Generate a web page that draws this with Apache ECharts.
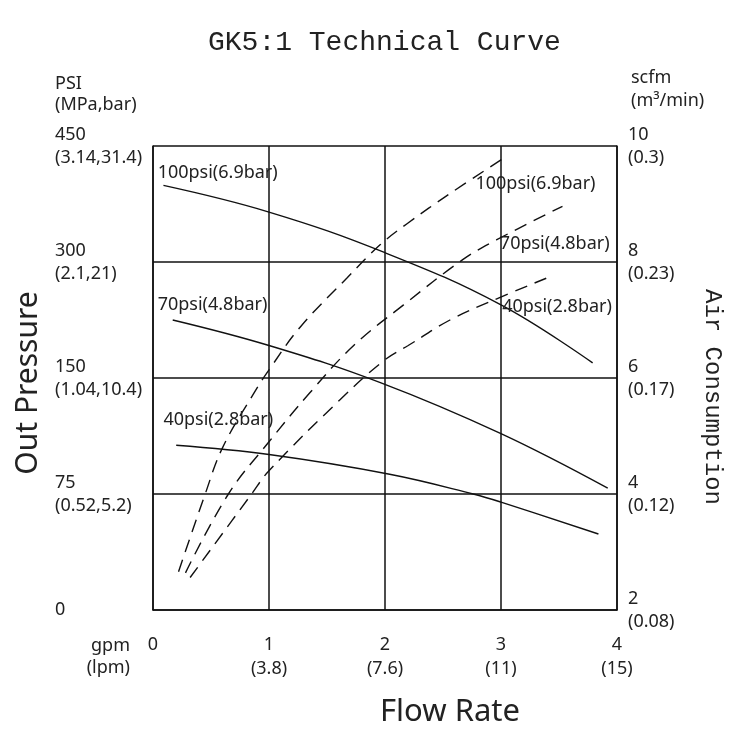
<!DOCTYPE html>
<html>
<head>
<meta charset="utf-8">
<script src="https://cdn.jsdelivr.net/npm/echarts@6/dist/echarts.min.js"></script>
<style>
	html, body { margin: 0; padding: 0; background: #fff; }
	#main { width: 750px; height: 750px; }
</style>
</head>
<body>
<div id="main"></div>
<script>
// flow rate ticks (gpm / lpm)
var flowLabels = ["0", "1\n(3.8)", "2\n(7.6)", "3\n(11)", "4\n(15)"];
// out pressure ticks, one per grid row (PSI / MPa,bar)
var pressLabels = ["0", "75\n(0.52,5.2)", "150\n(1.04,10.4)", "300\n(2.1,21)", "450\n(3.14,31.4)"];
// air consumption ticks (scfm / m3/min)
var airLabels = { 2: "2\n(0.08)", 4: "4\n(0.12)", 6: "6\n(0.17)", 8: "8\n(0.23)", 10: "10\n(0.3)" };

// out pressure curves, [gpm, pressure row]
var press100 = [[0.09, 3.66], [1.0, 3.43], [2.0, 3.08], [3.0, 2.63], [3.79, 2.13]];
var press70 = [[0.17, 2.50], [1.0, 2.28], [1.96, 1.96], [3.0, 1.52], [3.92, 1.05]];
var press40 = [[0.2, 1.42], [1.0, 1.34], [2.04, 1.17], [2.76, 1.0], [3.0, 0.93], [3.84, 0.655]];

// air consumption curves, [gpm, scfm]
var air100 = [[0.22, 2.66], [0.45, 4.0], [0.6, 4.8], [0.87, 5.74], [1.0, 6.14], [1.27, 6.88], [1.67, 7.72], [1.96, 8.3], [2.19, 8.66], [2.56, 9.18], [3.03, 9.8]];
var air70 = [[0.28, 2.64], [0.65, 4.0], [1.0, 4.9], [1.35, 5.74], [1.73, 6.56], [2.16, 7.26], [2.67, 8.04], [2.96, 8.38], [3.53, 8.96]];
var air40 = [[0.32, 2.56], [0.85, 4.0], [1.0, 4.4], [1.61, 5.62], [1.99, 6.3], [2.2, 6.56], [2.56, 7.0], [2.91, 7.32], [3.39, 7.72]];

var INK = "#111";
var TXT = "#222";
var FONT = "'Noto Sans', 'Liberation Sans', sans-serif";
var MONO = "'Liberation Mono', 'DejaVu Sans Mono', monospace";

// curve name tag
function tag(text, coord) {
	return {
		symbol: "circle",
		symbolSize: 0,
		data: [{ coord: coord, value: text }],
		label: {
			show: true,
			position: [0, 0],
			align: "left",
			verticalAlign: "middle",
			formatter: "{c}",
			color: TXT,
			fontFamily: FONT,
			fontSize: 18
		}
	};
}

function solid(data, mark) {
	return {
		type: "line",
		yAxisIndex: 0,
		data: data,
		smooth: 0.4,
		showSymbol: false,
		silent: true,
		lineStyle: { color: INK, width: 1.4 },
		markPoint: mark
	};
}

function dashed(data, mark) {
	return {
		type: "line",
		yAxisIndex: 1,
		data: data,
		smooth: 0.4,
		showSymbol: false,
		silent: true,
		lineStyle: { color: INK, width: 1.4, type: [13, 8] },
		markPoint: mark
	};
}

var chart = echarts.init(document.getElementById("main"), null, { renderer: "canvas" });

var option = {
	animation: false,
	title: {
		text: "GK5:1 Technical Curve",
		left: 203,
		top: 24,
		textStyle: { fontFamily: MONO, fontSize: 28, fontWeight: "normal", color: TXT }
	},
	grid: { left: 153, top: 146, width: 464, height: 464 },
	xAxis: {
		type: "value",
		min: 0,
		max: 4,
		interval: 1,
		axisLine: { show: true, lineStyle: { color: INK, width: 1.5 } },
		axisTick: { show: false },
		splitLine: { show: true, lineStyle: { color: INK, width: 1.5 } },
		axisLabel: {
			margin: 23,
			verticalAlign: "top",
			lineHeight: 24,
			color: TXT,
			fontFamily: FONT,
			fontSize: 18,
			formatter: function (v) { return flowLabels[v]; }
		}
	},
	yAxis: [
		{
			type: "value",
			min: 0,
			max: 4,
			interval: 1,
			axisLine: { show: true, lineStyle: { color: INK, width: 1.5 } },
			axisTick: { show: false },
			splitLine: { show: true, lineStyle: { color: INK, width: 1.5 } },
			axisLabel: {
				margin: 98,
				align: "left",
				lineHeight: 23,
				color: TXT,
				fontFamily: FONT,
				fontSize: 18,
				formatter: function (v) { return pressLabels[v]; }
			}
		},
		{
			type: "value",
			position: "right",
			min: 2,
			max: 10,
			interval: 2,
			axisLine: { show: true, lineStyle: { color: INK, width: 1.5 } },
			axisTick: { show: false },
			splitLine: { show: false },
			axisLabel: {
				margin: 11,
				align: "left",
				lineHeight: 23,
				color: TXT,
				fontFamily: FONT,
				fontSize: 18,
				formatter: function (v) { return airLabels[v]; }
			}
		}
	],
	graphic: [
		{ type: "text", x: 55, y: 94, style: { text: "PSI\n(MPa,bar)", fill: TXT, font: "18px " + FONT, lineHeight: 21, textAlign: "left", textVerticalAlign: "middle" } },
		{ type: "text", x: 631, y: 89, style: { text: "scfm\n(m³/min)", fill: TXT, font: "18px " + FONT, lineHeight: 23, textAlign: "left", textVerticalAlign: "middle" } },
		{ type: "text", x: 130, y: 657, style: { text: "gpm\n(lpm)", fill: TXT, font: "18px " + FONT, lineHeight: 22, textAlign: "right", textVerticalAlign: "middle" } },
		{ type: "text", x: 28, y: 383, rotation: Math.PI / 2, style: { text: "Out Pressure", fill: TXT, font: "30px " + FONT, textAlign: "center", textVerticalAlign: "middle" } },
		{ type: "text", x: 712, y: 397, rotation: -Math.PI / 2, style: { text: "Air Consumption", fill: TXT, font: "24px " + MONO, textAlign: "center", textVerticalAlign: "middle" } },
		{ type: "text", x: 450, y: 712, style: { text: "Flow Rate", fill: TXT, font: "31px " + FONT, textAlign: "center", textVerticalAlign: "middle" } }
	],
	series: [
		solid(press100, tag("100psi(6.9bar)", [0.04, 3.77])),
		solid(press70, tag("70psi(4.8bar)", [0.04, 2.63])),
		solid(press40, tag("40psi(2.8bar)", [0.09, 1.64])),
		dashed(air100, tag("100psi(6.9bar)", [2.78, 9.34])),
		dashed(air70, tag("70psi(4.8bar)", [2.99, 8.31])),
		dashed(air40, tag("40psi(2.8bar)", [3.01, 7.22]))
	]
};
chart.setOption(option);
window.addEventListener("resize", chart.resize);
</script>
</body>
</html>
